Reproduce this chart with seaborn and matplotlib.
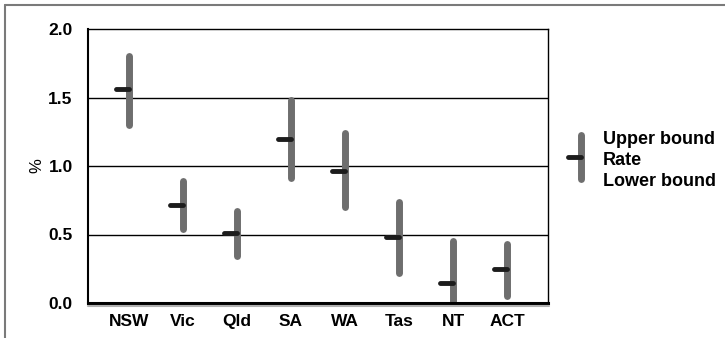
import matplotlib
matplotlib.use("Agg")
import matplotlib.pyplot as plt
from matplotlib.lines import Line2D
import numpy as np
import pandas as pd
import seaborn as sns

# values (%)
states = ["NSW", "Vic", "Qld", "SA", "WA", "Tas", "NT", "ACT"]
upper = [1.80, 0.89, 0.67, 1.48, 1.24, 0.74, 0.45, 0.43]
rate = [1.56, 0.715, 0.51, 1.20, 0.965, 0.48, 0.145, 0.25]
lower = [1.30, 0.54, 0.34, 0.91, 0.70, 0.22, 0.00, 0.05]
yticks = [0.0, 0.5, 1.0, 1.5, 2.0]
legend_labels = ["Upper bound", "Rate", "Lower bound"]

df = pd.DataFrame({"state": states, "upper": upper, "rate": rate, "lower": lower})
df["x"] = np.arange(len(df))

sns.set_theme(style="white")
plt.rcParams["font.family"] = ["Liberation Sans", "DejaVu Sans"]
plt.rcParams["text.color"] = "black"
plt.rcParams["axes.labelcolor"] = "black"

bar_col = "#6e6e6e"
dash_col = "#1c1c1c"

fig = plt.figure(figsize=(7.25, 3.38), dpi=100)
ax = fig.add_axes([88 / 725, 35 / 338, 460 / 725, 274 / 338])

# grid lines
for y in yticks[1:-1]:
    ax.axhline(y, color="black", lw=1.0, zorder=1)

# range bars
vl = ax.vlines(df["x"], df["lower"], df["upper"], color=bar_col, lw=5, zorder=3)
vl.set_capstyle("round")
# rate ticks, drawn to the left of each bar
hl = ax.hlines(df["rate"], df["x"] - 0.24, df["x"], color=dash_col, lw=3.5, zorder=4)
hl.set_capstyle("round")

ax.set_xlim(-0.756, len(states) - 1 + 0.756)
ax.set_ylim(0, 2.0)
ax.set_yticks(yticks)
ax.set_yticklabels([f"{v:.1f}" for v in yticks], fontsize=12.5, fontweight="bold")
ax.set_xticks(df["x"])
ax.set_xticklabels(states, fontsize=12.5, fontweight="bold")
ax.tick_params(axis="y", length=0, pad=11, labelcolor="black")
ax.tick_params(axis="x", length=0, pad=8, labelcolor="black")
ax.set_ylabel("%", fontsize=12, rotation=90, labelpad=3)

for side in ["top", "right"]:
    ax.spines[side].set_linewidth(1.0)
    ax.spines[side].set_color("black")
ax.spines["left"].set_linewidth(1.5)
ax.spines["left"].set_color("black")
ax.spines["bottom"].set_linewidth(2.2)
ax.spines["bottom"].set_color("black")
ax.spines["bottom"].set_zorder(5)

# shadow under the x axis
fig.add_artist(Line2D([88 / 725, 549 / 725], [1 - 305.5 / 338] * 2,
                      color="#b0b0b0", lw=1.5))

# outer frame of the exhibit
fig.add_artist(Line2D([4.5 / 725, 4.5 / 725], [0, 1 - 5 / 338], color="#7a7a7a", lw=1.5))
fig.add_artist(Line2D([4.5 / 725, 1], [1 - 5 / 338] * 2, color="#7a7a7a", lw=1.5))

# legend key
fig.add_artist(Line2D([581 / 725] * 2, [1 - 135 / 338, 1 - 179 / 338],
                      color=bar_col, lw=5, solid_capstyle="round"))
fig.add_artist(Line2D([568 / 725, 581 / 725], [1 - 157 / 338] * 2,
                      color=dash_col, lw=3.5, solid_capstyle="round"))
for i, lab in enumerate(legend_labels):
    fig.text(603 / 725, 1 - (139 + 21.5 * i) / 338, lab, fontsize=13,
             fontweight="bold", va="center", ha="left")

fig.savefig("out.png", dpi=100)
